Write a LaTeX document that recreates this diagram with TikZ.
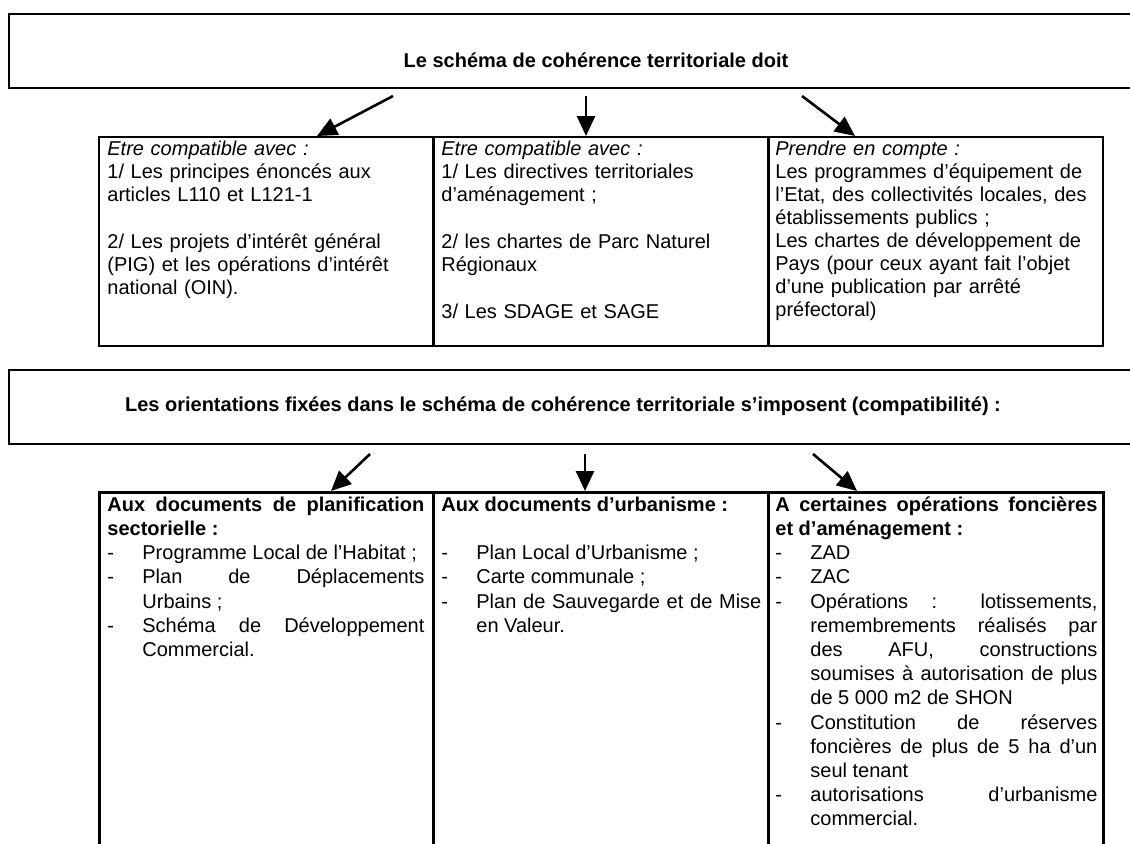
\documentclass[tikz,border=0pt]{standalone}
\usepackage{fontspec}
\setmainfont{Liberation Sans}
\usepackage{tikz}
\usetikzlibrary{arrows.meta}
\setlength{\parindent}{0pt}
\tolerance=10000
\hyphenpenalty=10000
\newcommand{\puce}[1]{\par\hangindent=17.5pt\hangafter=1\makebox[17.5pt][l]{-}#1}

\begin{document}
\begin{tikzpicture}[x=0.5pt, y=-0.5pt, >={Triangle[length=10pt, width=9pt]},
  cadre/.style={draw, line width=1pt, inner sep=0pt, anchor=north west, minimum width=588pt, minimum height=37pt},
  caseA/.style={draw, line width=0.8pt, inner sep=0pt, anchor=north west, minimum height=104.5pt},
  caseB/.style={draw, line width=1.5pt, inner sep=0pt, anchor=north west, minimum height=195pt},
  titre/.style={anchor=base, inner sep=0pt, font=\fontsize{10pt}{12pt}\selectfont\bfseries},
  texteA/.style={anchor=north west, inner sep=0pt, text width=159pt, align=left, font=\fontsize{10pt}{11.5pt}\selectfont},
  texteB/.style={anchor=north west, inner sep=0pt, text width=160pt, align=justify, font=\fontsize{10pt}{12.1pt}\selectfont},
  fleche/.style={->, line width=1.3pt}]

\useasboundingbox (0,0) rectangle (1130,843);
\clip (0,0) rectangle (1130,843);

\node[cadre] (cadre1) at (8,13) {};
\node[titre] (titre1) at (596,67) {Le schéma de cohérence territoriale doit};

\coordinate (d1) at (393,96);  \coordinate (f1) at (317,136);
\coordinate (d2) at (586,96);  \coordinate (f2) at (586,136);
\coordinate (d3) at (802,96);  \coordinate (f3) at (855,136);
\draw[fleche] (d1) -- (f1);
\draw[fleche] (d2) -- (f2);
\draw[fleche] (d3) -- (f3);

\node[caseA, minimum width=167pt] (c11) at (98,136) {};
\node[caseA, minimum width=167.5pt] (c12) at (432,136) {};
\node[caseA, minimum width=167.5pt] (c13) at (767,136) {};
\draw[line width=1.5pt] (c11.north east) -- (c11.south east);
\draw[line width=1.5pt] (c12.north east) -- (c12.south east);

\node[texteA] (t11) at (107,139) {\strut\textit{Etre compatible avec :}\\
  1/ Les principes énoncés aux\\ articles L110 et L121-1\\[12pt]
  2/ Les projets d'intérêt général\\ (PIG) et les opérations d'intérêt\\ national (OIN).};
\node[texteA] (t12) at (441,139) {\strut\textit{Etre compatible avec :}\\
  1/ Les directives territoriales\\ d'aménagement ;\\[12pt]
  2/ les chartes de Parc Naturel\\ Régionaux\\[12pt]
  3/ Les SDAGE et SAGE};
\node[texteA] (t13) at (775,139) {\strut\textit{Prendre en compte :}\\
  Les programmes d'équipement de\\ l'Etat, des collectivités locales, des\\
  établissements publics ;\\ Les chartes de développement de\\
  Pays (pour ceux ayant fait l'objet\\ d'une publication par arrêté\\ préfectoral)};

\node[cadre] (cadre2) at (8,369) {};
\node[titre] (titre2) at (563,411) {Les orientations fixées dans le schéma de cohérence territoriale s'imposent (compatibilité) :};

\coordinate (d4) at (370,454);  \coordinate (f4) at (331,491);
\coordinate (d5) at (585,454);  \coordinate (f5) at (585,491);
\coordinate (d6) at (813,454);  \coordinate (f6) at (857,491);
\draw[fleche] (d4) -- (f4);
\draw[fleche] (d5) -- (f5);
\draw[fleche] (d6) -- (f6);

\node[caseB, minimum width=167pt] (c21) at (98,491) {};
\node[caseB, minimum width=167.5pt] (c22) at (432,491) {};
\node[caseB, minimum width=167.5pt] (c23) at (767,491) {};

\node[texteB, text width=158.5pt] (t21) at (107,494) {\strut\textbf{Aux documents de planification \linebreak sectorielle :}
  \puce{Programme Local de l'Habitat ;}
  \puce{Plan de Déplacements \linebreak Urbains ;}
  \puce{Schéma de Développement \linebreak Commercial.}\par};
\node[texteB] (t22) at (441,494) {\strut\textbf{Aux documents d'urbanisme :}\par\vspace{12.1pt}
  \puce{Plan Local d'Urbanisme ;}
  \puce{Carte communale ;}
  \puce{Plan de Sauvegarde et de Mise \linebreak en Valeur.}\par};
\node[texteB, text width=161pt] (t23) at (775,494) {\strut\textbf{A certaines opérations foncières \linebreak et d'aménagement :}
  \puce{ZAD}
  \puce{ZAC}
  \puce{Opérations : lotissements, \linebreak remembrements réalisés par \linebreak des AFU, constructions \linebreak soumises à autorisation de plus \linebreak de 5~000 m2 de SHON}
  \puce{Constitution de réserves \linebreak foncières de plus de 5 ha d'un \linebreak seul tenant}
  \puce{autorisations d'urbanisme \linebreak commercial.}\par};

\end{tikzpicture}
\end{document}
